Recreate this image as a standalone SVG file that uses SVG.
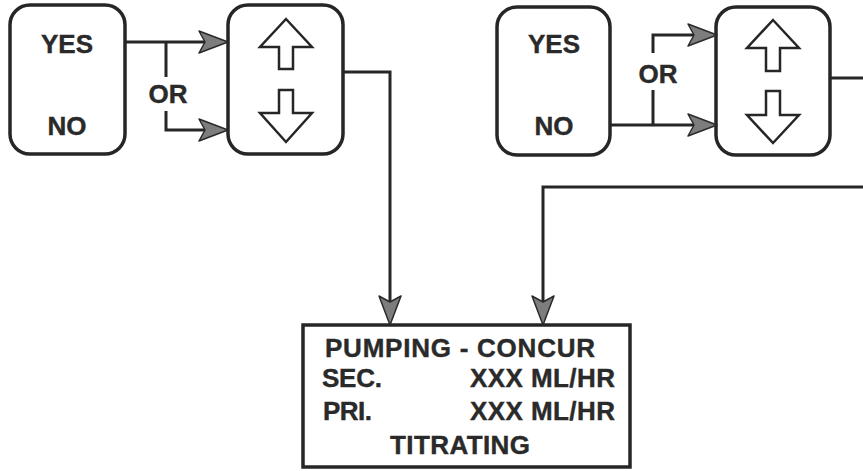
<svg xmlns="http://www.w3.org/2000/svg" width="863" height="471" viewBox="0 0 863 471">
<style>
.box{fill:#fff;stroke:#262626;stroke-width:3.5}
.icon{fill:#fff;stroke:#262626;stroke-width:2.5;stroke-linejoin:miter}
.lbl{font-family:"Liberation Sans",Arial,sans-serif;font-weight:bold;font-size:26px;fill:#2a2a2a;stroke:#2a2a2a;stroke-width:0.4}
.mid{text-anchor:middle}
.con{fill:none;stroke:#262626;stroke-width:3}
</style>
<defs>
<marker id="ah" viewBox="-10 -12 31 24" refX="0" refY="0" markerWidth="31" markerHeight="24" markerUnits="userSpaceOnUse" orient="auto">
<path d="M20,0 L-9,-11 L-3,0 L-9,11 Z" fill="#7d7d7d" stroke="#2a2a2a" stroke-width="1.5" stroke-linejoin="round"/>
</marker>
</defs>
<rect x="0" y="0" width="863" height="471" fill="#fff"/>
<g id="yesno-left">
<rect class="box" x="10" y="5" width="115" height="149" rx="20"/>
<text class="lbl mid" x="67" y="53">YES</text>
<text class="lbl mid" x="67" y="135">NO</text>
</g>
<g id="updown-left">
<rect class="box" x="228" y="5" width="115" height="149" rx="20"/>
<path class="icon" d="M286,19 L312,47 L293,47 L293,69 L279,69 L279,47 L260,47 Z"/>
<path class="icon" d="M279,90 L293,90 L293,113 L312,113 L286,142 L260,113 L279,113 Z"/>
</g>
<g id="yesno-right">
<rect class="box" x="497" y="7" width="113" height="148" rx="20"/>
<text class="lbl mid" x="554" y="53">YES</text>
<text class="lbl mid" x="554" y="135">NO</text>
</g>
<g id="updown-right">
<rect class="box" x="716" y="7" width="114" height="148" rx="20"/>
<path class="icon" d="M773,20 L799,48 L780,48 L780,71 L766,71 L766,48 L747,48 Z"/>
<path class="icon" d="M766,91 L780,91 L780,115 L799,115 L773,143 L747,115 L766,115 Z"/>
</g>
<g id="display">
<rect class="box" x="303" y="325" width="327" height="142"/>
<text class="lbl" x="325" y="357" textLength="270" lengthAdjust="spacing">PUMPING - CONCUR</text>
<text class="lbl" x="322" y="387" textLength="60" lengthAdjust="spacing">SEC.</text>
<text class="lbl" x="470" y="387" textLength="145" lengthAdjust="spacing">XXX ML/HR</text>
<text class="lbl" x="323" y="420" textLength="49" lengthAdjust="spacing">PRI.</text>
<text class="lbl" x="470" y="420" textLength="145" lengthAdjust="spacing">XXX ML/HR</text>
<text class="lbl" x="390" y="454" textLength="140" lengthAdjust="spacing">TITRATING</text>
</g>
<g id="connectors">
<path class="con" d="M125,42 H208" marker-end="url(#ah)"/>
<path class="con" d="M166,42 V77"/>
<path class="con" d="M166,111 V130 H208" marker-end="url(#ah)"/>
<text class="lbl mid" x="168" y="103">OR</text>
<path class="con" d="M343,72 H390 V305" marker-end="url(#ah)"/>
<path class="con" d="M610,125 H697" marker-end="url(#ah)"/>
<path class="con" d="M653,125 V90"/>
<path class="con" d="M653,53 V35 H697" marker-end="url(#ah)"/>
<text class="lbl mid" x="658" y="83">OR</text>
<path class="con" d="M830,78 H863"/>
<path class="con" d="M863,187 H543 V305" marker-end="url(#ah)"/>
</g>
</svg>
